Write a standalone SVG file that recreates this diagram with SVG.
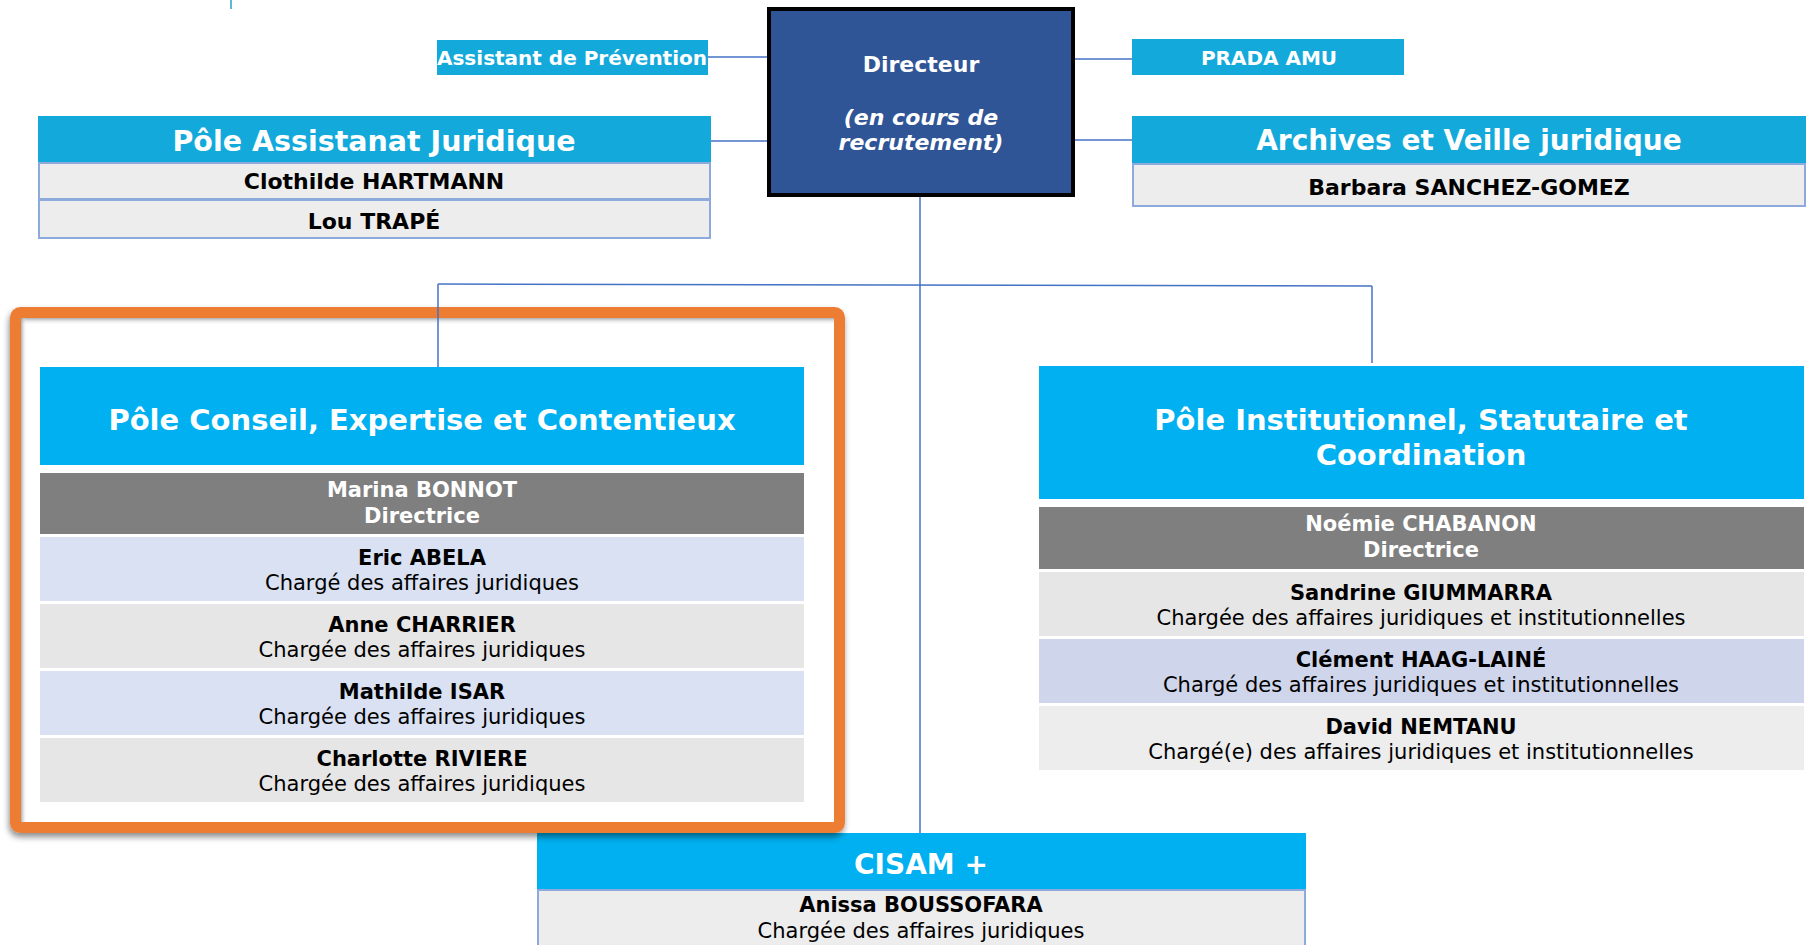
<svg xmlns="http://www.w3.org/2000/svg" width="1812" height="945" viewBox="0 0 1812 945">
<style>
text{font-family:"DejaVu Sans","Verdana",sans-serif;text-anchor:middle}
.hd{font-size:29px;font-weight:bold;fill:#fff}
.sm{font-size:20px;font-weight:bold;fill:#fff}
.nm{font-size:21px;font-weight:bold;fill:#000}
.nt{font-size:22px;font-weight:bold;fill:#000}
.rl{font-size:21px;fill:#000}
.wn{font-size:21px;font-weight:bold;fill:#fff}
.hb1{fill:#14A9DB}
.hb2{fill:#00B0F0}
.rowb{fill:#EDEDED;stroke:#8EA9DB;stroke-width:2}
.dir{fill:#7F7F7F}
.blu{fill:#D9E1F2}
.gry{fill:#E7E6E6}
.lav{fill:#CFD5EA}
.lgr{fill:#EDEDED}
.con{stroke:#4472C4;stroke-width:1.5;fill:none}
</style>
<defs>
<filter id="sh" x="-5%" y="-5%" width="110%" height="115%">
<feDropShadow dx="-1" dy="4" stdDeviation="3" flood-color="#000" flood-opacity="0.45"/>
</filter>
<linearGradient id="gt" x1="0" y1="0" x2="0" y2="1">
<stop offset="0" stop-color="#999" stop-opacity="0.8"/>
<stop offset="1" stop-color="#fff" stop-opacity="0"/>
</linearGradient>
<linearGradient id="gl" x1="0" y1="0" x2="1" y2="0">
<stop offset="0" stop-color="#999" stop-opacity="0.8"/>
<stop offset="1" stop-color="#fff" stop-opacity="0"/>
</linearGradient>
</defs>
<rect width="1812" height="945" fill="#fff"/>
<line x1="231" y1="0" x2="231" y2="9" stroke="#5BB8D8" stroke-width="2"/>

<g id="directeur">
<rect x="769" y="9" width="304" height="186" fill="#2F5597" stroke="#000" stroke-width="4"/>
<text x="921" y="72" class="wn" style="font-size:22px">Directeur</text>
<text x="921" y="125" class="wn" style="font-size:22px;font-style:italic">(en cours de</text>
<text x="921" y="150" class="wn" style="font-size:22px;font-style:italic">recrutement)</text>
</g>

<g id="assistant-prevention">
<rect x="437" y="40" width="271" height="35" class="hb1"/>
<text x="572" y="65" class="sm">Assistant de Prévention</text>
</g>

<g id="prada-amu">
<rect x="1132" y="39" width="272" height="36" class="hb1"/>
<text x="1269" y="65" class="sm">PRADA AMU</text>
</g>

<g id="pole-assistanat">
<rect x="38" y="116" width="673" height="46" class="hb1"/>
<text x="374" y="151" class="hd" style="font-size:28.5px">Pôle Assistanat Juridique</text>
<rect x="39" y="163" width="671" height="36" class="rowb"/>
<text x="374" y="189" class="nt">Clothilde HARTMANN</text>
<rect x="39" y="200" width="671" height="38" class="rowb"/>
<text x="374" y="229" class="nt">Lou TRAPÉ</text>
</g>

<g id="archives">
<rect x="1132" y="116" width="674" height="47" class="hb1"/>
<text x="1469" y="150" class="hd" style="font-size:28px">Archives et Veille juridique</text>
<rect x="1133" y="164" width="672" height="42" class="rowb"/>
<text x="1469" y="195" class="nt">Barbara SANCHEZ-GOMEZ</text>
</g>

<g id="cisam">
<rect x="537" y="833" width="769" height="57" class="hb2"/>
<text x="921" y="874" class="hd" style="font-size:28px">CISAM +</text>
<rect x="538" y="890" width="767" height="70" class="rowb"/>
<text x="921" y="912" class="nm">Anissa BOUSSOFARA</text>
<text x="921" y="938" class="rl">Chargée des affaires juridiques</text>
</g>

<g id="frame-conseil">
<rect x="15.5" y="312.5" width="824" height="515" rx="5" fill="#fff" stroke="#ED7D31" stroke-width="11" filter="url(#sh)"/>
<rect x="21" y="318" width="813" height="7" fill="url(#gt)"/>
<rect x="21" y="318" width="6" height="504" fill="url(#gl)"/>
</g>

<g id="pole-conseil">
<rect x="40" y="367" width="764" height="98" class="hb2"/>
<text x="422" y="430" class="hd">Pôle Conseil, Expertise et Contentieux</text>
<rect x="40" y="473" width="764" height="61" class="dir"/>
<text x="422" y="497" class="wn">Marina BONNOT</text>
<text x="422" y="523" class="wn">Directrice</text>
<rect x="40" y="537" width="764" height="64" class="blu"/>
<text x="422" y="565" class="nm">Eric ABELA</text>
<text x="422" y="590" class="rl">Chargé des affaires juridiques</text>
<rect x="40" y="604" width="764" height="64" class="gry"/>
<text x="422" y="632" class="nm">Anne CHARRIER</text>
<text x="422" y="657" class="rl">Chargée des affaires juridiques</text>
<rect x="40" y="671" width="764" height="64" class="blu"/>
<text x="422" y="699" class="nm">Mathilde ISAR</text>
<text x="422" y="724" class="rl">Chargée des affaires juridiques</text>
<rect x="40" y="738" width="764" height="64" class="gry"/>
<text x="422" y="766" class="nm">Charlotte RIVIERE</text>
<text x="422" y="791" class="rl">Chargée des affaires juridiques</text>
</g>

<g id="pole-institutionnel">
<rect x="1039" y="366" width="765" height="133" class="hb2"/>
<text x="1421" y="430" class="hd">Pôle Institutionnel, Statutaire et</text>
<text x="1421" y="465" class="hd">Coordination</text>
<rect x="1039" y="507" width="765" height="62" class="dir"/>
<text x="1421" y="531" class="wn">Noémie CHABANON</text>
<text x="1421" y="557" class="wn">Directrice</text>
<rect x="1039" y="572" width="765" height="64" class="gry"/>
<text x="1421" y="600" class="nm">Sandrine GIUMMARRA</text>
<text x="1421" y="625" class="rl">Chargée des affaires juridiques et institutionnelles</text>
<rect x="1039" y="639" width="765" height="64" class="lav"/>
<text x="1421" y="667" class="nm">Clément HAAG-LAINÉ</text>
<text x="1421" y="692" class="rl">Chargé des affaires juridiques et institutionnelles</text>
<rect x="1039" y="706" width="765" height="64" class="lgr"/>
<text x="1421" y="734" class="nm">David NEMTANU</text>
<text x="1421" y="759" class="rl">Chargé(e) des affaires juridiques et institutionnelles</text>
</g>

<g id="connectors">
<line class="con" x1="708" y1="57" x2="767" y2="57"/>
<line class="con" x1="711" y1="141" x2="767" y2="141"/>
<line class="con" x1="1075" y1="59" x2="1132" y2="59"/>
<line class="con" x1="1075" y1="140" x2="1132" y2="140"/>
<line class="con" x1="920" y1="197" x2="920" y2="833"/>
<line class="con" x1="438" y1="284" x2="1372" y2="286"/>
<line class="con" x1="438" y1="284" x2="438" y2="367"/>
<line class="con" x1="1372" y1="286" x2="1372" y2="363"/>
</g>
</svg>
